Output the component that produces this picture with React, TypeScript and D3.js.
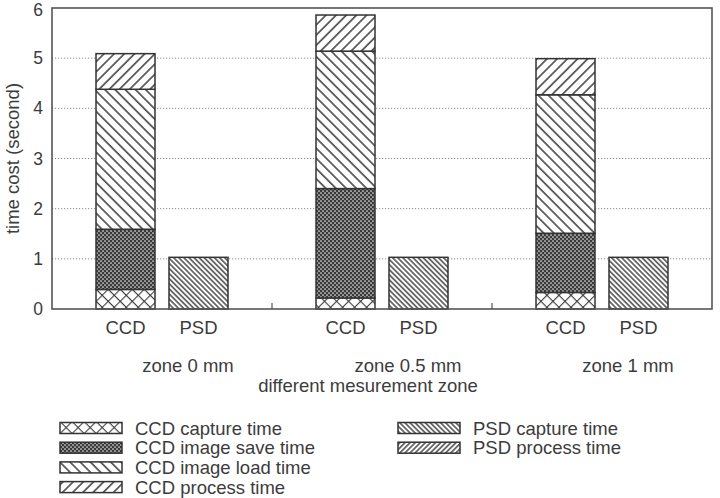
import React from "react";
import * as d3 from "d3";

// Stacked time-cost components (seconds) per measurement zone
const zones = ["zone 0 mm", "zone 0.5 mm", "zone 1 mm"];
const sensors = ["CCD", "PSD"];
const ccdCapture = [0.39, 0.22, 0.33];
const ccdImageSave = [1.2, 2.18, 1.18];
const ccdImageLoad = [2.79, 2.74, 2.76];
const ccdProcess = [0.71, 0.72, 0.72];
const psdCapture = [1.03, 1.03, 1.03];
const psdProcess = [0, 0, 0];
const yTicks = [0, 1, 2, 3, 4, 5, 6];

const W = 720;
const H = 498;
const margin = { left: 52, right: 8, top: 8, bottom: 189 };
const FONT = "'Liberation Sans', Arial, Helvetica, sans-serif";
const INK = "#3c3c3c";
const FS = 18.5;
const TICK_FS = 17.5;

type Series = { key: string; label: string; pattern: string; values: number[] };

const ccdSeries: Series[] = [
  { key: "ccdCapture", label: "CCD capture time", pattern: "pCross", values: ccdCapture },
  { key: "ccdImageSave", label: "CCD image save time", pattern: "pDense", values: ccdImageSave },
  { key: "ccdImageLoad", label: "CCD image load time", pattern: "pBack", values: ccdImageLoad },
  { key: "ccdProcess", label: "CCD process time", pattern: "pFwd", values: ccdProcess },
];
const psdSeries: Series[] = [
  { key: "psdCapture", label: "PSD capture time", pattern: "pBackFine", values: psdCapture },
  { key: "psdProcess", label: "PSD process time", pattern: "pFwdFine", values: psdProcess },
];

function stackSegments(series: Series[], zi: number) {
  let acc = 0;
  return series.map((s) => {
    const y0 = acc;
    acc += s.values[zi];
    return { ...s, y0, y1: acc };
  });
}

function Hatch({ id, gap, angle, width }: { id: string; gap: number; angle: number; width: number }) {
  return (
    <pattern id={id} patternUnits="userSpaceOnUse" width={gap} height={gap} patternTransform={`rotate(${angle})`}>
      <rect width={gap} height={gap} fill="#fff" />
      <line x1={gap / 2} y1={-1} x2={gap / 2} y2={gap + 1} stroke={INK} strokeWidth={width} />
    </pattern>
  );
}

export default function App() {
  const x = d3
    .scaleBand<string>()
    .domain(zones)
    .range([margin.left, W - margin.right])
    .paddingInner(0)
    .paddingOuter(0);
  const sub = d3
    .scaleBand<string>()
    .domain(sensors)
    .range([0, x.bandwidth()])
    .paddingInner(14 / 73)
    .paddingOuter(0.603);
  const y = d3
    .scaleLinear()
    .domain([0, 6])
    .range([H - margin.bottom, margin.top]);

  const plotL = margin.left;
  const plotR = W - margin.right;
  const plotT = y(6);
  const plotB = y(0);

  const legendRows = [
    { s: ccdSeries[0], col: 0, row: 0 },
    { s: ccdSeries[1], col: 0, row: 1 },
    { s: ccdSeries[2], col: 0, row: 2 },
    { s: ccdSeries[3], col: 0, row: 3 },
    { s: psdSeries[0], col: 1, row: 0 },
    { s: psdSeries[1], col: 1, row: 1 },
  ];
  const legendColX = [60, 398];
  const legendY0 = 428;
  const legendDy = 19.7;

  return (
    <svg
      width={W}
      height={H}
      style={{ position: "absolute", left: 0, top: 0, background: "#fff" }}
      fontFamily={FONT}
    >
      <defs>
        <pattern id="pCross" patternUnits="userSpaceOnUse" width={8.5} height={8.5} patternTransform="rotate(45)">
          <rect width={8.5} height={8.5} fill="#fff" />
          <line x1={0} y1={0} x2={0} y2={8.5} stroke={INK} strokeWidth={2.2} />
          <line x1={0} y1={0} x2={8.5} y2={0} stroke={INK} strokeWidth={2.2} />
        </pattern>
        <pattern id="pDense" patternUnits="userSpaceOnUse" width={4} height={4}>
          <rect width={4} height={4} fill="#3a3a3a" />
          <circle cx={1} cy={1} r={0.85} fill="#e8e8e8" />
          <circle cx={3} cy={3} r={0.85} fill="#e8e8e8" />
        </pattern>
        <Hatch id="pBack" gap={7.2} angle={-45} width={1.5} />
        <Hatch id="pFwd" gap={7.2} angle={45} width={1.5} />
        <Hatch id="pBackFine" gap={3.6} angle={-45} width={1.4} />
        <Hatch id="pFwdFine" gap={3.6} angle={45} width={1.4} />
      </defs>

      {/* horizontal dotted grid */}
      {yTicks
        .filter((t) => t > 0 && t < 6)
        .map((t) => (
          <line
            key={`g${t}`}
            x1={plotL}
            x2={plotR}
            y1={y(t)}
            y2={y(t)}
            stroke="#8a8a8a"
            strokeWidth={1}
            strokeDasharray="1.2,1.8"
          />
        ))}

      {/* stacked bars */}
      {zones.map((z, zi) => {
        const groups: [string, Series[]][] = [
          ["CCD", ccdSeries],
          ["PSD", psdSeries],
        ];
        return (
          <g key={z}>
            {groups.map(([name, series]) => {
              const bx = (x(z) as number) + (sub(name) as number);
              return stackSegments(series, zi)
                .filter((seg) => seg.y1 > seg.y0)
                .map((seg) => (
                  <rect
                    key={`${name}-${seg.key}`}
                    x={bx}
                    y={y(seg.y1)}
                    width={sub.bandwidth()}
                    height={y(seg.y0) - y(seg.y1)}
                    fill={`url(#${seg.pattern})`}
                    stroke="#333"
                    strokeWidth={1.5}
                  />
                ));
            })}
          </g>
        );
      })}

      {/* plot frame */}
      <rect
        x={plotL}
        y={plotT}
        width={plotR - plotL}
        height={plotB - plotT}
        fill="none"
        stroke="#555"
        strokeWidth={1.6}
      />

      {/* category separators on the x axis */}
      {zones.slice(1).map((z) => (
        <line key={`sep${z}`} x1={x(z)} x2={x(z)} y1={plotB} y2={plotB - 6} stroke="#555" strokeWidth={1.2} />
      ))}

      {/* y tick labels */}
      {yTicks.map((t) => (
        <text
          key={`t${t}`}
          x={plotL - 9}
          y={Math.max(y(t), 10)}
          textAnchor="end"
          dominantBaseline="central"
          fontSize={TICK_FS}
          fill={INK}
        >
          {t}
        </text>
      ))}

      {/* y axis title */}
      <text
        transform={`translate(12,${(plotT + plotB) / 2}) rotate(-90)`}
        textAnchor="middle"
        dominantBaseline="central"
        fontSize={FS}
        fill={INK}
      >
        time cost (second)
      </text>

      {/* sensor labels under each bar */}
      {zones.map((z) =>
        sensors.map((s) => (
          <text
            key={`${z}-${s}`}
            x={(x(z) as number) + (sub(s) as number) + sub.bandwidth() / 2}
            y={327}
            textAnchor="middle"
            dominantBaseline="central"
            fontSize={FS}
            fill={INK}
          >
            {s}
          </text>
        ))
      )}

      {/* zone labels */}
      {zones.map((z) => (
        <text
          key={`zl${z}`}
          x={(x(z) as number) + x.bandwidth() / 2 + 26}
          y={365}
          textAnchor="middle"
          dominantBaseline="central"
          fontSize={FS}
          fill={INK}
        >
          {z}
        </text>
      ))}
      <text x={368} y={385.5} textAnchor="middle" dominantBaseline="central" fontSize={FS} fill={INK}>
        different mesurement zone
      </text>

      {/* legend */}
      {legendRows.map(({ s, col, row }) => {
        const lx = legendColX[col];
        const ly = legendY0 + row * legendDy;
        return (
          <g key={`lg${s.key}`}>
            <rect x={lx} y={ly - 5.5} width={62} height={11} fill={`url(#${s.pattern})`} stroke="#333" strokeWidth={1.5} />
            <text x={lx + 75} y={ly} dominantBaseline="central" fontSize={FS} fill={INK}>
              {s.label}
            </text>
          </g>
        );
      })}
    </svg>
  );
}
